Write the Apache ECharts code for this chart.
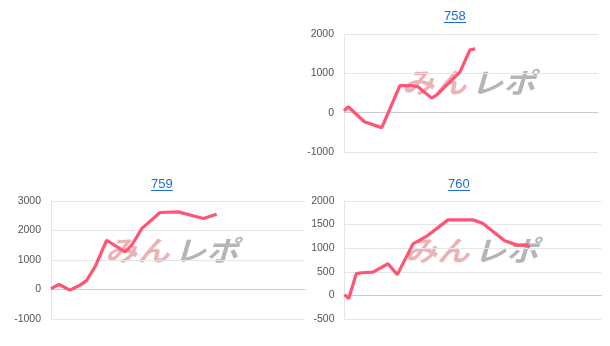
<!DOCTYPE html>
<html><head><meta charset="utf-8">
<script src="https://cdn.jsdelivr.net/npm/echarts@6/dist/echarts.min.js"></script>
<style>html,body{margin:0;padding:0;background:#fff}#c{width:610px;height:346px}</style>
</head><body><div id="c"></div>
<script>
// Titles (machine numbers)
const titles = ['758', '759', '760'];
// x = games played, y = coin difference
const games758 = [0, 135, 640, 1190, 1760, 2130, 2330, 2760, 2920, 3650, 3970, 4130];
const diff758  = [50, 150, -230, -380, 690, 690, 660, 370, 450, 1030, 1600, 1620];
const games759 = [0, 252, 598, 913, 1124, 1386, 1754, 2331, 2542, 2857, 3433, 4009, 4797, 5219];
const diff759  = [30, 170, -20, 150, 310, 770, 1670, 1275, 1500, 2065, 2610, 2630, 2405, 2550];
const games760 = [0, 130, 367, 523, 887, 1354, 1643, 2132, 2546, 3222, 4000, 4300, 4987, 5400, 5659, 5765];
const diff760  = [15, -70, 460, 480, 495, 670, 440, 1090, 1250, 1600, 1600, 1530, 1160, 1060, 1070, 1020];
// y axis ranges
const yMin = [-1000, -1000, -500];
const yMax = [2000, 3000, 2000];
const yStep = [1000, 1000, 500];
const gameMax = 8000;

const zip = (a, b) => a.map((v, i) => [v, b[i]]);
const seriesData = [zip(games758, diff758), zip(games759, diff759), zip(games760, diff760)];

const grids = [
  {left: 344, top: 34, width: 254, height: 118},
  {left: 51, top: 201, width: 254, height: 118},
  {left: 344.5, top: 201, width: 257, height: 118}
];
const titlePos = [{left: 444, top: 10}, {left: 151, top: 178}, {left: 448, top: 178}];
const logoPos = [[402, 72], [105, 240], [405, 240]];
const blue = '#1a6fd1';

const chart = echarts.init(document.getElementById('c'), null, {renderer: 'canvas'});
const graphic = [];
titlePos.forEach(p => {
  graphic.push({type: 'line', shape: {x1: p.left, y1: p.top + 12.5, x2: p.left + 22, y2: p.top + 12.5},
    style: {stroke: blue, lineWidth: 1}, silent: true});
});
logoPos.forEach(p => {
  graphic.push({type: 'group', x: p[0], y: p[1], scaleX: 1.15, z: -1, silent: true, children: [
    {type: 'text', x: 0, y: -4, style: {text: 'みん', fill: '#eab3b6', font: 'italic bold 28px "Noto Sans CJK JP"', textVerticalAlign: 'top'}},
    {type: 'text', x: 60, y: -4, style: {text: 'レポ', fill: '#b5b5b5', font: 'italic bold 28px "Noto Sans CJK JP"', textVerticalAlign: 'top'}}
  ]});
});

chart.setOption({
  animation: false,
  title: titles.map((t, i) => ({text: t, left: titlePos[i].left, top: titlePos[i].top, padding: 0,
    textStyle: {color: blue, fontSize: 13, fontWeight: 'normal', fontFamily: 'Liberation Sans, Arial'}})),
  grid: grids,
  xAxis: grids.map((g, i) => ({type: 'value', gridIndex: i, min: 0, max: gameMax,
    axisLine: {show: true, onZero: true, lineStyle: {color: '#cccccc', width: 1}},
    axisTick: {show: false}, axisLabel: {show: false}, splitLine: {show: false}})),
  yAxis: grids.map((g, i) => ({type: 'value', gridIndex: i, min: yMin[i], max: yMax[i], interval: yStep[i],
    axisLine: {show: true, lineStyle: {color: '#e6e6e6'}}, axisTick: {show: false},
    axisLabel: {color: '#555', fontSize: 10.5, margin: 10, fontFamily: 'Liberation Sans, Arial',
      formatter: v => String(v)},
    splitLine: {lineStyle: {color: '#e6e6e6'}}})),
  series: seriesData.map((d, i) => ({type: 'line', xAxisIndex: i, yAxisIndex: i, data: d,
    symbol: 'none', z: 5, lineStyle: {color: '#ff5473', width: 3.2}})),
  graphic: graphic
});
</script></body></html>
